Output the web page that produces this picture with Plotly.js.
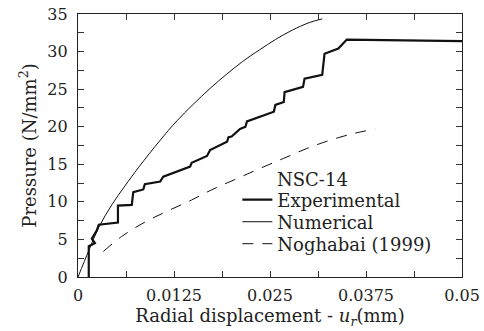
<!DOCTYPE html>
<html>
<head>
<meta charset="utf-8">
<script src="https://cdn.plot.ly/plotly-3.0.1.min.js"></script>
<style>html,body{margin:0;padding:0;background:#fff;}#chart{width:484px;height:331px;}</style>
</head>
<body>
<div id="chart"></div>
<script>
// Experimental (NSC-14)
var expX = [0.0014, 0.0014, 0.0022, 0.0018, 0.00245, 0.0027, 0.0052, 0.0052, 0.0070, 0.0072, 0.0085, 0.0087, 0.0107, 0.0111, 0.0146, 0.0148, 0.0168, 0.0172, 0.0194, 0.0196, 0.0200, 0.0203, 0.0211, 0.0218, 0.0220, 0.0255, 0.0257, 0.0268, 0.0269, 0.0293, 0.0295, 0.0318, 0.0321, 0.0339, 0.0350, 0.0500];
var expY = [0, 4.1, 4.5, 5.1, 6.2, 6.95, 7.25, 9.5, 9.6, 11.3, 11.65, 12.35, 12.7, 13.35, 14.7, 15.2, 16.1, 16.9, 18.0, 18.6, 18.7, 19.0, 19.7, 20.0, 20.7, 22.0, 22.9, 23.3, 24.6, 25.3, 26.4, 26.9, 29.7, 30.4, 31.6, 31.4];
// Numerical
var numX = [0, 0.0014, 0.0027, 0.0044, 0.0061, 0.0079, 0.0107, 0.0129, 0.0172, 0.0214, 0.0236, 0.0257, 0.0279, 0.0301, 0.0318];
var numY = [0, 3.5, 6.6, 9.6, 12.1, 14.6, 18.2, 20.8, 25.1, 28.65, 30.2, 31.6, 32.85, 33.85, 34.35];
// Noghabai (1999)
var nogX = [0.0033, 0.0057, 0.0087, 0.0116, 0.0148, 0.0174, 0.0205, 0.0237, 0.0268, 0.0298, 0.0328, 0.0359, 0.0387];
var nogY = [3.4, 5.4, 7.3, 8.75, 10.25, 11.6, 13.0, 14.45, 15.8, 17.1, 18.2, 19.1, 19.7];

var xTickVals = [0, 0.00625, 0.0125, 0.01875, 0.025, 0.03125, 0.0375, 0.04375, 0.05];
var xTickText = ['0', '', '0.0125', '', '0.025', '', '0.0375', '', '0.05'];
var yTickVals = [0, 2.5, 5, 7.5, 10, 12.5, 15, 17.5, 20, 22.5, 25, 27.5, 30, 32.5, 35];
var yTickText = ['0', '', '5', '', '10', '', '15', '', '20', '', '25', '', '30', '', '35'];

var FONT = 'DejaVu Serif';

var traces = [
  {x: expX, y: expY, mode: 'lines', name: 'Experimental', line: {color: '#111', width: 2.2}, legend: 'legend'},
  {x: numX, y: numY, mode: 'lines', name: 'Numerical', line: {color: '#111', width: 1, shape: 'spline', smoothing: 1}, legend: 'legend2'},
  {x: nogX, y: nogY, mode: 'lines', name: 'Noghabai (1999)', line: {color: '#111', width: 1, dash: '11px,9px', shape: 'spline', smoothing: 1}, legend: 'legend3'}
];

function leg(y) {
  return {x: 0.415, y: y, xanchor: 'left', yanchor: 'middle', bgcolor: 'rgba(0,0,0,0)', borderwidth: 0,
          font: {family: FONT, size: 18, color: '#222'}};
}

var layout = {
  width: 484, height: 331,
  margin: {l: 77.5, r: 22, t: 14, b: 54},
  paper_bgcolor: '#fff', plot_bgcolor: '#fff',
  showlegend: true,
  font: {family: FONT, color: '#222'},
  xaxis: {
    range: [0, 0.05], tickvals: xTickVals, ticktext: xTickText,
    ticks: 'inside', ticklen: 6, tickwidth: 1, tickcolor: '#333',
    showline: true, linecolor: '#222', linewidth: 1.2, mirror: 'ticks',
    showgrid: false, zeroline: false,
    tickfont: {family: FONT, size: 16, color: '#222'},
    ticklabelstandoff: 4,
    title: {text: 'Radial displacement - <i>u</i><sub><i>r</i></sub>(mm)', font: {family: FONT, size: 18, color: '#222'}, standoff: 4}
  },
  yaxis: {
    range: [0, 35], tickvals: yTickVals, ticktext: yTickText,
    ticks: 'inside', ticklen: 6, tickwidth: 1, tickcolor: '#333',
    showline: true, linecolor: '#222', linewidth: 1.2, mirror: 'ticks',
    showgrid: false, zeroline: false,
    tickfont: {family: FONT, size: 16, color: '#222'},
    ticklabelstandoff: 6,
    title: {text: 'Pressure (N/mm<sup>2</sup>)', font: {family: FONT, size: 18, color: '#222'}, standoff: 6}
  },
  legend: leg(0.293),
  legend2: leg(0.209),
  legend3: leg(0.1255),
  annotations: [{
    xref: 'paper', yref: 'paper', x: 0.5137, y: 0.37, xanchor: 'left', yanchor: 'middle',
    text: 'NSC-14', showarrow: false, font: {family: FONT, size: 18, color: '#222'}
  }]
};

Plotly.newPlot('chart', traces, layout, {staticPlot: true, displayModeBar: false});
</script>
</body>
</html>
